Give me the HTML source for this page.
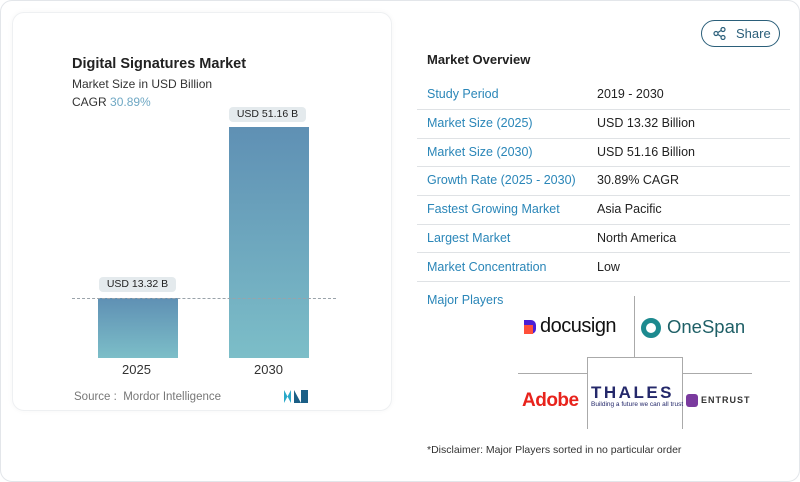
<!DOCTYPE html>
<html><head><style>
*{margin:0;padding:0;box-sizing:border-box}
body{width:800px;height:482px;background:#fff;font-family:"Liberation Sans",sans-serif;position:relative;overflow:hidden}
.abs{position:absolute;white-space:nowrap}
.outer{position:absolute;left:0;top:0;width:800px;height:482px;border:1px solid #e3e6ea;border-radius:12px}
.card{position:absolute;left:12px;top:12px;width:380px;height:399px;border:1px solid #eef0f2;border-radius:12px;box-shadow:0 0 6px rgba(0,0,0,0.04)}
.lbl{color:#2a86b8;font-size:12.5px}
.val{color:#222;font-size:12.5px}
.line{position:absolute;left:417px;width:373px;height:1px;background:#dfe2e5}
.pill{position:absolute;background:#e4eaed;border-radius:4px;font-size:10.5px;color:#222;text-align:center;line-height:15px;height:15px}
</style></head><body>
<div class="outer"></div>
<div class="card"></div>
<div class="abs" style="left:72px;top:56px;font-size:14.5px;font-weight:bold;color:#222">Digital Signatures Market</div>
<div class="abs" style="left:72px;top:77px;font-size:12px;color:#333">Market Size in USD Billion</div>
<div class="abs" style="left:72px;top:95px;font-size:12px;color:#333">CAGR <span style="color:#6fa8c4">30.89%</span></div>
<div class="abs" style="left:98px;top:298px;width:80px;height:60px;background:linear-gradient(#5f90b4,#7cbec8)"></div>
<div class="abs" style="left:229px;top:127px;width:80px;height:231px;background:linear-gradient(#5f90b4,#7cbec8)"></div>
<div class="abs" style="left:72px;top:298px;width:264px;border-top:1px dashed #9aa3aa"></div>
<div class="pill" style="left:99px;top:277px;width:77px">USD 13.32 B</div>
<div class="pill" style="left:229px;top:107px;width:77px">USD 51.16 B</div>
<div class="abs" style="left:122px;top:362px;font-size:13px;color:#333">2025</div>
<div class="abs" style="left:254px;top:362px;font-size:13px;color:#333">2030</div>
<div class="abs" style="left:74px;top:391px;font-size:11.5px;color:#777">Source :&nbsp; Mordor Intelligence</div>
<svg class="abs" style="left:284px;top:390px" width="24" height="13"><path d="M0 13V0l7 13V0z" fill="#2aa9c9"/><path d="M10 13V0l7 13V0h7v13" fill="#1b5f86"/></svg>
<div class="abs" style="left:701px;top:20px;width:79px;height:27px;border:1px solid #2b5f7a;border-radius:14px;font-size:13px;color:#2b5f7a;line-height:25px;padding-left:34px">Share</div>
<svg class="abs" style="left:713px;top:27px" width="13" height="13" fill="none" stroke="#2b5f7a" stroke-width="1.2"><circle cx="3" cy="6.5" r="2"/><circle cx="10" cy="2.5" r="2"/><circle cx="10" cy="10.5" r="2"/><path d="M5 5.5l3-2M5 7.5l3 2"/></svg>
<div class="abs" style="left:427px;top:52px;font-size:13px;font-weight:bold;color:#222">Market Overview</div>
<div class="abs lbl" style="left:427px;top:87px">Study Period</div><div class="abs val" style="left:597px;top:87px">2019 - 2030</div>
<div class="line" style="top:109px"></div>
<div class="abs lbl" style="left:427px;top:116px">Market Size (2025)</div><div class="abs val" style="left:597px;top:116px">USD 13.32 Billion</div>
<div class="line" style="top:138px"></div>
<div class="abs lbl" style="left:427px;top:145px">Market Size (2030)</div><div class="abs val" style="left:597px;top:145px">USD 51.16 Billion</div>
<div class="line" style="top:166px"></div>
<div class="abs lbl" style="left:427px;top:173px">Growth Rate (2025 - 2030)</div><div class="abs val" style="left:597px;top:173px">30.89% CAGR</div>
<div class="line" style="top:195px"></div>
<div class="abs lbl" style="left:427px;top:202px">Fastest Growing Market</div><div class="abs val" style="left:597px;top:202px">Asia Pacific</div>
<div class="line" style="top:224px"></div>
<div class="abs lbl" style="left:427px;top:231px">Largest Market</div><div class="abs val" style="left:597px;top:231px">North America</div>
<div class="line" style="top:252px"></div>
<div class="abs lbl" style="left:427px;top:260px">Market Concentration</div><div class="abs val" style="left:597px;top:260px">Low</div>
<div class="line" style="top:281px"></div>
<div class="abs lbl" style="left:427px;top:293px">Major Players</div>
<div class="abs" style="left:634px;top:296px;width:1px;height:61px;background:#aaa"></div>
<div class="abs" style="left:518px;top:373px;width:234px;height:1px;background:#aaa"></div>
<div class="abs" style="left:587px;top:357px;width:96px;height:72px;border:1px solid #aaa;border-bottom:none;background:#fff"></div>
<div class="abs" style="left:524px;top:320px;width:12px;height:14px;background:#4a1fd6;border-radius:0 5px 5px 0"></div>
<div class="abs" style="left:524px;top:325px;width:9px;height:9px;background:#ff4f3a"></div>
<div class="abs" style="left:540px;top:315px;font-size:20px;color:#111;letter-spacing:-0.5px">docusign</div>
<div class="abs" style="left:641px;top:318px;width:20px;height:20px;border:5px solid #1d8a8f;border-radius:50%"></div>
<div class="abs" style="left:667px;top:316px;font-size:18.5px;color:#1e5f66">OneSpan</div>
<div class="abs" style="left:522px;top:390px;font-size:19px;font-weight:bold;color:#e8231c;letter-spacing:-0.5px">Adobe</div>
<div class="abs" style="left:591px;top:383px;font-size:17px;font-weight:bold;color:#24286a;letter-spacing:2.5px">THALES</div>
<div class="abs" style="left:591px;top:401px;font-size:6.5px;color:#24286a">Building a future we can all trust</div>
<div class="abs" style="left:686px;top:394px;width:12px;height:13px;background:#7a3a9e;border-radius:3px"></div>
<div class="abs" style="left:701px;top:395px;font-size:9px;font-weight:bold;color:#333;letter-spacing:1px">ENTRUST</div>
<div class="abs" style="left:427px;top:444px;font-size:10.5px;color:#333">*Disclaimer: Major Players sorted in no particular order</div>
</body></html>
